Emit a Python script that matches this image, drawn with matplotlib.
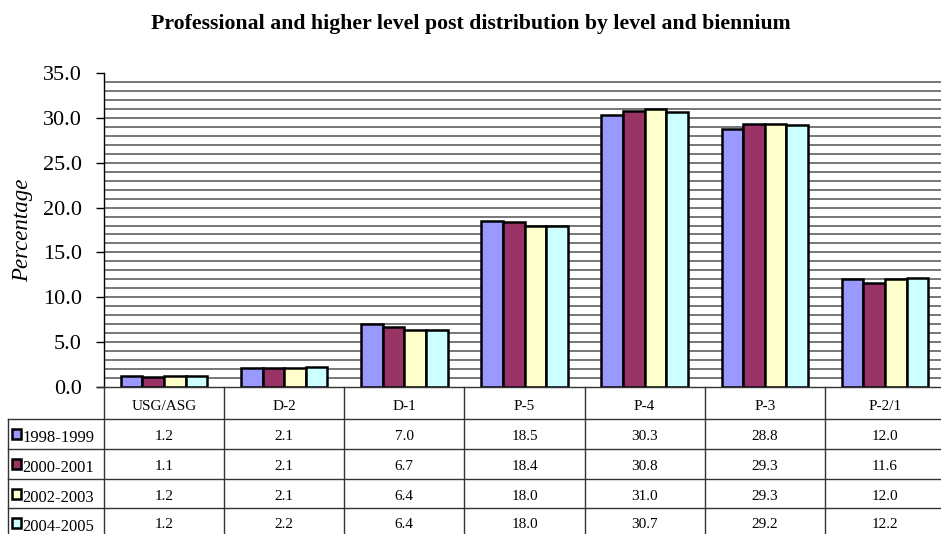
import numpy as np
import matplotlib
matplotlib.use("Agg")
import matplotlib.pyplot as plt
from matplotlib.patches import Rectangle
from matplotlib.lines import Line2D

categories = ["USG/ASG", "D-2", "D-1", "P-5", "P-4", "P-3", "P-2/1"]
series_names = ["1998-1999", "2000-2001", "2002-2003", "2004-2005"]
v_1998_1999 = [1.2, 2.1, 7.0, 18.5, 30.3, 28.8, 12.0]
v_2000_2001 = [1.1, 2.1, 6.7, 18.4, 30.8, 29.3, 11.6]
v_2002_2003 = [1.2, 2.1, 6.4, 18.0, 31.0, 29.3, 12.0]
v_2004_2005 = [1.2, 2.2, 6.4, 18.0, 30.7, 29.2, 12.2]
series_values = [v_1998_1999, v_2000_2001, v_2002_2003, v_2004_2005]
colors = ["#9999FF", "#993366", "#FFFFCC", "#CCFFFF"]
yticks = [0, 5, 10, 15, 20, 25, 30, 35]

W, H = 941, 534
fig = plt.figure(figsize=(W / 100, H / 100), dpi=100)
plt.rcParams["font.family"] = ["Liberation Serif", "DejaVu Serif"]


def fx(px):
    return px / W


def fy(py):
    return 1 - py / H


ax_left, ax_right, ax_top, ax_bottom = 104, 945, 73, 387
ax = fig.add_axes([fx(ax_left), fy(ax_bottom), fx(ax_right - ax_left), fy(ax_top) - fy(ax_bottom)])
ax.set_xlim(0, len(categories))
ax.set_ylim(0, 35)

# horizontal gridlines every unit
for g in range(1, 35):
    ax.axhline(g, color="#777777", lw=1.4, zorder=1)

bar_w = 0.18
x = np.arange(len(categories)) + 0.5
for i, (vals, c) in enumerate(zip(series_values, colors)):
    ax.bar(x + (i - 1.5) * bar_w, vals, width=bar_w, color=c,
           edgecolor="black", linewidth=1.8, zorder=3)

ax.set_yticks(yticks)
ax.set_yticklabels([f"{t:.1f}" for t in yticks], fontsize=16)
ax.tick_params(axis="y", direction="out", length=6, width=1, pad=10)
ax.set_xticks([])
for s in ["top", "right", "bottom"]:
    ax.spines[s].set_visible(False)
ax.spines["left"].set_linewidth(1)
ax.set_ylabel("Percentage", fontsize=16.5, style="italic")
ax.yaxis.set_label_coords(fx(33 - ax_left) / fx(ax_right - ax_left), 0.5)

fig.text(0.5, fy(24), "Professional and higher level post distribution by level and biennium",
         ha="center", va="center", fontsize=15.7, fontweight="bold")

# data table beneath the axes
col_w = (ax_right - ax_left) / len(categories)
row_edges = [387, 419, 449, 479, 508, 536]
table_left = 8
lc = "#333333"


def hline(y, x0, x1):
    fig.add_artist(Line2D([fx(x0), fx(x1)], [fy(y), fy(y)], color=lc, lw=1.0))


def vline(xp, y0, y1):
    fig.add_artist(Line2D([fx(xp), fx(xp)], [fy(y0), fy(y1)], color=lc, lw=1.0))


hline(387, 97, ax_right + 5)
for y in row_edges[1:-1]:
    hline(y, table_left, ax_right + 5)
vline(table_left, row_edges[1], H + 5)
for k in range(len(categories) + 1):
    vline(ax_left + k * col_w, 387, H + 5)

for k, cat in enumerate(categories):
    cx = ax_left + (k + 0.5) * col_w
    fig.text(fx(cx), fy((row_edges[0] + row_edges[1]) / 2 + 3), cat,
             ha="center", va="center", fontsize=11)
    for r, vals in enumerate(series_values):
        cy = (row_edges[r + 1] + row_edges[r + 2]) / 2 + 3
        fig.text(fx(cx), fy(cy), f"{vals[k]:.1f}", ha="center", va="center", fontsize=11)

for r, (name, c) in enumerate(zip(series_names, colors)):
    top = row_edges[r + 1]
    fig.add_artist(Rectangle((fx(12), fy(top + 20)), fx(9), fy(0) - fy(10),
                             facecolor=c, edgecolor="black", lw=1.8))
    fig.text(fx(22), fy(top + 19), name, ha="left", va="center", fontsize=12)

fig.savefig("out.png", dpi=100)
